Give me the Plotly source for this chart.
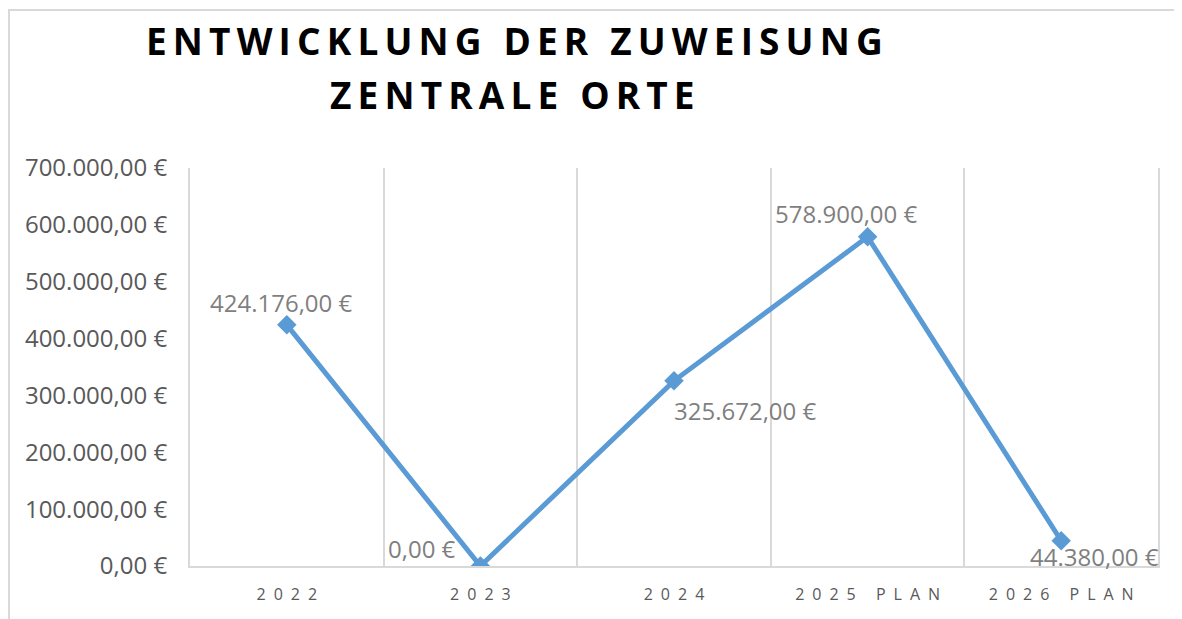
import plotly.graph_objects as go

categories = ["2022", "2023", "2024", "2025 PLAN", "2026 PLAN"]
values = [424176, 0, 325672, 578900, 44380]
y_ticks = [0, 100000, 200000, 300000, 400000, 500000, 600000, 700000]

# label placement (pixel shifts relative to each point)
label_dx = [-5, -58, 71, -21, 33]
label_dy = [22, 18, -30, 23, -16]

BLUE = "#5B9BD5"
GRID = "#D9D9D9"


def spaced(s, sep="\u2002", word="\u2002 \u2002"):
    return word.join(sep.join(list(w)) for w in s.split(" "))


def euro(v):
    s = f"{v:,.2f}"
    s = s.replace(",", "X").replace(".", ",").replace("X", ".")
    return s + "\u00a0€"


x_idx = list(range(len(categories)))

fig = go.Figure()
fig.add_trace(go.Scatter(
    x=x_idx, y=values, mode="lines+markers",
    line=dict(color=BLUE, width=5),
    marker=dict(symbol="diamond", size=15, color=BLUE),
    hoverinfo="skip", showlegend=False,
))

for i, v in enumerate(values):
    fig.add_annotation(
        x=i, y=v, text=euro(v), showarrow=False,
        xshift=label_dx[i], yshift=label_dy[i],
        font=dict(family="Open Sans", size=24, color="#7F7F7F"),
    )

title_font = dict(family="Open Sans", size=37, color="#000000", weight="bold")
fig.add_annotation(xref="paper", yref="paper", x=(514 - 190) / 968, y=(566 - 41) / 398,
                   text=spaced("ENTWICKLUNG DER ZUWEISUNG", "\u2009", "\u2009\u00a0\u2009"),
                   showarrow=False, font=title_font, xanchor="center", yanchor="middle")
fig.add_annotation(xref="paper", yref="paper", x=(512 - 190) / 968, y=(566 - 95) / 398,
                   text=spaced("ZENTRALE ORTE", "\u2009", "\u2009\u00a0\u2009"),
                   showarrow=False, font=title_font, xanchor="center", yanchor="middle")

# outer chart border
fig.add_shape(type="rect", xref="paper", yref="paper",
              x0=(1 - 182) / 968, x1=1.2, y0=-0.5, y1=(566 - 10) / 398,
              line=dict(color=GRID, width=2), fillcolor="rgba(0,0,0,0)", layer="below")

fig.update_layout(
    width=1174, height=611,
    margin=dict(l=182, r=24, t=160, b=53),
    paper_bgcolor="white", plot_bgcolor="white",
    font=dict(family="Open Sans"),
)
fig.update_xaxes(
    range=[-0.5, 4.5], tickvals=x_idx, ticktext=[spaced(c) for c in categories],
    showgrid=False, zeroline=False, showline=True, linecolor=GRID, linewidth=2,
    tickfont=dict(family="Open Sans", size=16, color="#595959"),
    ticks="", ticklabelstandoff=13,
    minor=dict(tickvals=[-0.5, 0.5, 1.5, 2.5, 3.5, 4.5], showgrid=True,
               gridcolor=GRID, gridwidth=2, ticks=""),
)
fig.update_yaxes(
    range=[0, 700000], tickvals=y_ticks, ticktext=[euro(t) for t in y_ticks],
    showgrid=False, zeroline=False, showline=True, mirror=True, linecolor=GRID, linewidth=2,
    tickfont=dict(family="Open Sans", size=24, color="#595959"),
    ticks="", ticklabelstandoff=16,
)

fig.write_html("out.html")
